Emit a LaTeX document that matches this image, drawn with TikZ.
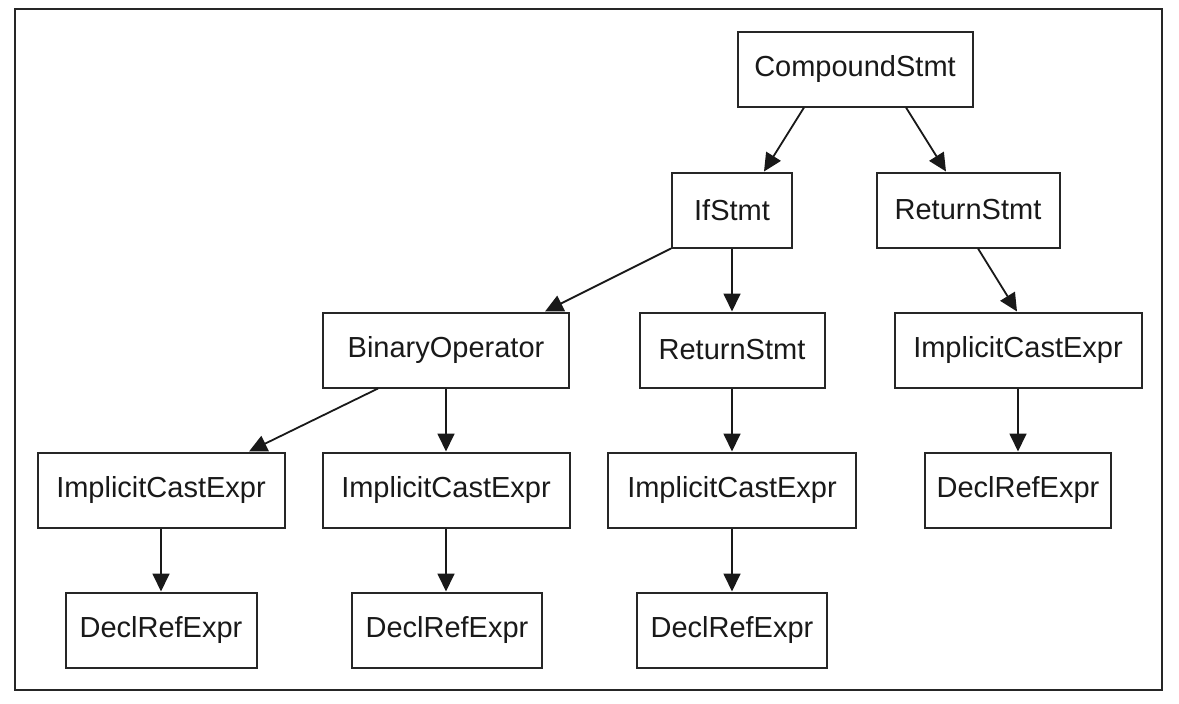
\documentclass[tikz,border=0pt]{standalone}
\usepackage{fontspec}
\setmainfont{Liberation Sans}
\usetikzlibrary{arrows.meta}
\begin{document}
\begin{tikzpicture}[x=1pt,y=-1pt,
  box/.style={draw=black!85, line width=2pt, rectangle, inner sep=0pt,
    minimum height=75pt, font=\fontsize{29}{31}\selectfont, text=black!90},
  edge/.style={line width=1.8pt, draw=black!90,
    -{Triangle[length=18pt 0 0,width=17pt 0 0]}}]
\useasboundingbox (0,0) rectangle (1179,704);
\draw[line width=2.2pt, black!85] (15,9) rectangle (1162,690);
% row 0
\node[box, minimum width=235pt] (cs) at (855,69) {CompoundStmt};
% row 1
\node[box, minimum width=120pt] (if) at (732,210) {IfStmt};
\node[box, minimum width=183pt] (rs2) at (968,210) {ReturnStmt};
% row 2
\node[box, minimum width=246pt] (bo) at (446,350) {BinaryOperator};
\node[box, minimum width=185pt] (rs1) at (732,350) {ReturnStmt};
\node[box, minimum width=247pt] (ice4) at (1018,350) {ImplicitCastExpr};
% row 3
\node[box, minimum width=247pt] (ice1) at (161,490) {ImplicitCastExpr};
\node[box, minimum width=247pt] (ice2) at (446,490) {ImplicitCastExpr};
\node[box, minimum width=248pt] (ice3) at (732,490) {ImplicitCastExpr};
\node[box, minimum width=186pt] (dre4) at (1018,490) {DeclRefExpr};
% row 4
\node[box, minimum width=191pt] (dre1) at (161,630) {DeclRefExpr};
\node[box, minimum width=190pt] (dre2) at (447,630) {DeclRefExpr};
\node[box, minimum width=190pt] (dre3) at (732,630) {DeclRefExpr};
% edges
\draw[edge] ([xshift=-51pt]cs.south) -- ([xshift=32pt]if.north);
\draw[edge] ([xshift=51pt]cs.south) -- ([xshift=-22pt]rs2.north);
\draw[edge] (if.south west) -- ([xshift=99pt]bo.north);
\draw[edge] (if.south) -- (rs1.north);
\draw[edge] ([xshift=10pt]rs2.south) -- ([xshift=-1pt]ice4.north);
\draw[edge] ([xshift=-68pt]bo.south) -- ([xshift=88pt]ice1.north);
\draw[edge] (bo.south) -- (ice2.north);
\draw[edge] (ice1.south) -- (dre1.north);
\draw[edge] (ice2.south) -- ([xshift=-1pt]dre2.north);
\draw[edge] (rs1.south) -- (ice3.north);
\draw[edge] (ice3.south) -- (dre3.north);
\draw[edge] (ice4.south) -- (dre4.north);
\end{tikzpicture}
\end{document}
